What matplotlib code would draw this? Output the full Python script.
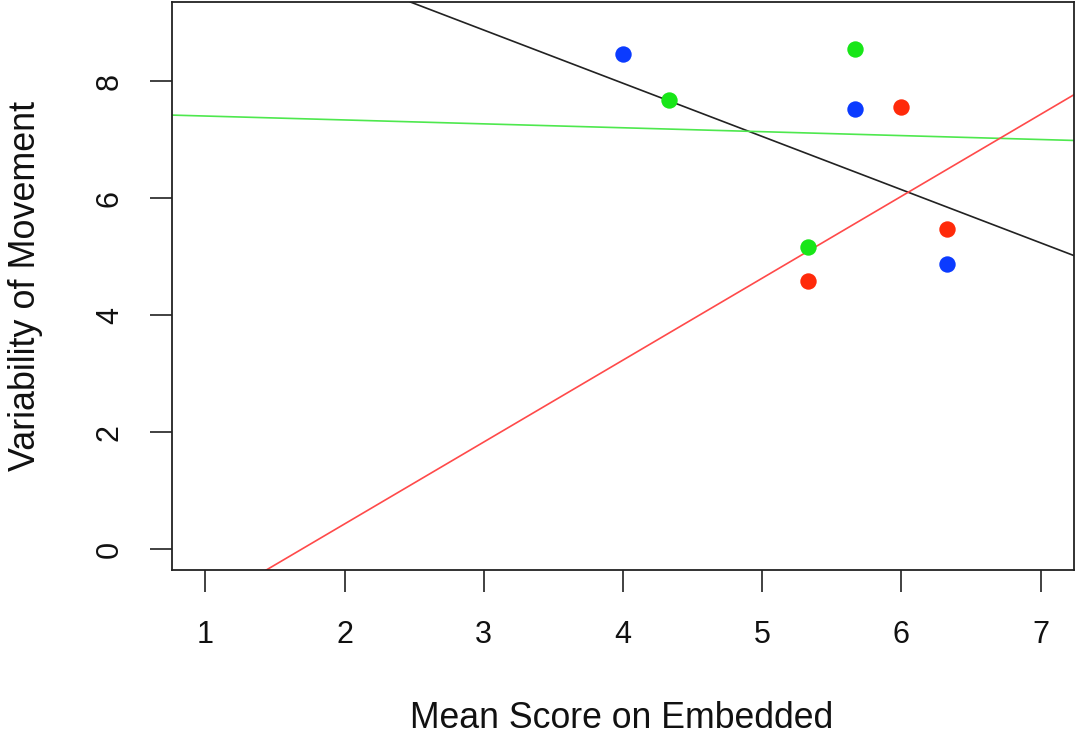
import numpy as np
import matplotlib
matplotlib.use("Agg")
import matplotlib.pyplot as plt

plt.rcParams['font.family'] = ['Liberation Sans', 'DejaVu Sans']

# Data (three groups)
blue_x = [4.00, 5.67, 6.33]
blue_y = [8.47, 7.53, 4.87]
green_x = [4.33, 5.67, 5.33]
green_y = [7.68, 8.55, 5.17]
red_x = [6.00, 5.33, 6.33]
red_y = [7.57, 4.59, 5.47]

x_ticks = [1, 2, 3, 4, 5, 6, 7]
y_ticks = [0, 2, 4, 6, 8]
x_label = "Mean Score on Embedded"
y_label = "Variability of Movement"

W, H = 1077, 755
fig = plt.figure(figsize=(W / 100, H / 100), dpi=100)
L, R, T, B = 172, 1074, 2, 570
ax = fig.add_axes([L / W, 1 - B / H, (R - L) / W, (B - T) / H])

col_blue = '#0b3bff'
col_green = '#18e618'
col_red = '#ff2a0a'

all_x = np.array(blue_x + green_x + red_x)
all_y = np.array(blue_y + green_y + red_y)

# regression lines
def fit_line(xs, ys, color, lw):
    m, c = np.polyfit(xs, ys, 1)
    ax.axline((0, c), slope=m, color=color, lw=lw, zorder=2)

fit_line(all_x, all_y, '#222222', 1.2)
fit_line(np.array(green_x), np.array(green_y), '#4ee84e', 1.2)
fit_line(np.array(red_x), np.array(red_y), '#ff4a4a', 1.2)

ms = 11.8
ax.plot(blue_x, blue_y, 'o', color=col_blue, ms=ms, mec='none', zorder=3)
ax.plot(green_x, green_y, 'o', color=col_green, ms=ms, mec='none', zorder=3)
ax.plot(red_x, red_y, 'o', color=col_red, ms=ms, mec='none', zorder=3)

ax.set_xlim(1 - 0.24, 7 + 0.24)
ax.set_ylim(0 - 0.36, 9 + 0.36)
ax.set_xticks(x_ticks)
ax.set_yticks(y_ticks)
ax.set_xticklabels([str(v) for v in x_ticks], fontsize=22, color='#111111')
ax.set_yticklabels([str(v) for v in y_ticks], fontsize=22, rotation=90, va='center', color='#111111')
ax.tick_params(axis='both', direction='out', length=16, width=1.3, color='#333333')
ax.tick_params(axis='x', pad=20)
ax.tick_params(axis='y', pad=18)
for s in ax.spines.values():
    s.set_linewidth(1.3)
    s.set_color('#222222')

fig.text(622 / W, 1 - 718 / H, x_label, ha='center', va='center', fontsize=25.7, color='#111111')
fig.text(26 / W, 1 - 286 / H, y_label, ha='center', va='center', fontsize=25.8, rotation=90, color='#111111')

fig.savefig('out.png', dpi=100)
